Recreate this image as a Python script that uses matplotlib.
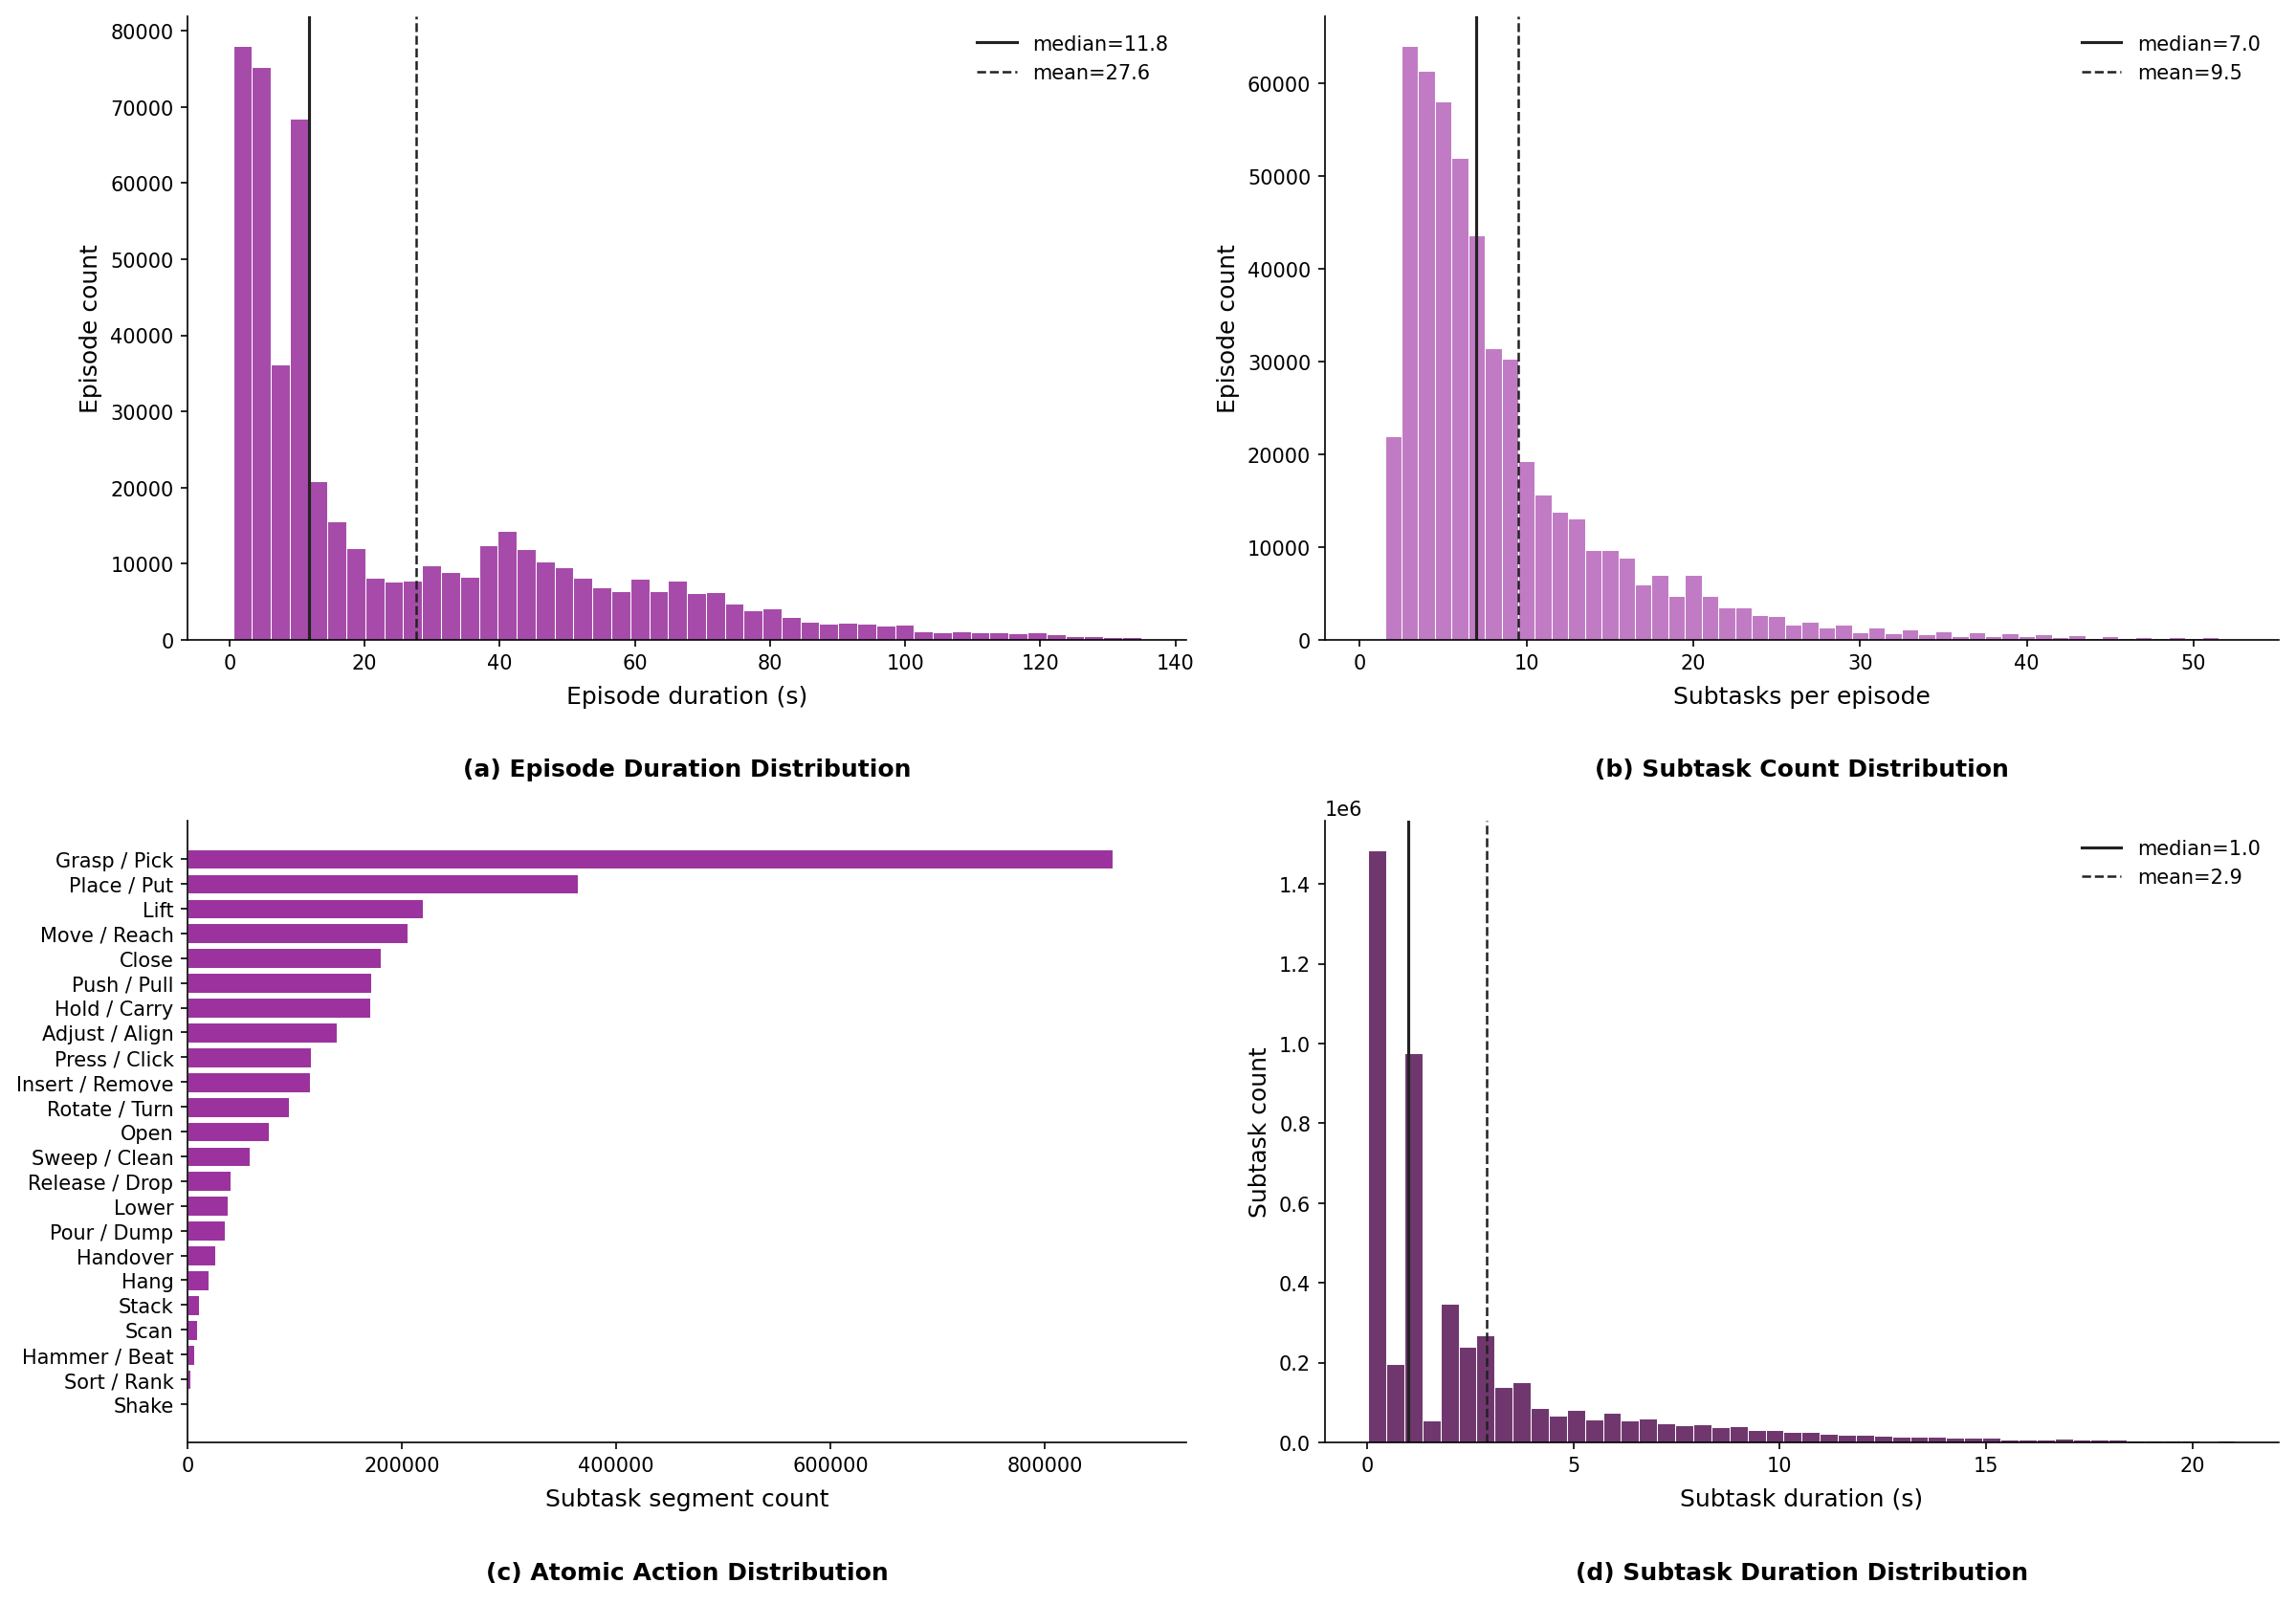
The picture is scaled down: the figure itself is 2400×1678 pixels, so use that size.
import numpy as np
import matplotlib
matplotlib.use("Agg")
import matplotlib.pyplot as plt

# (a) episode duration histogram, 48 bins of 2.8 s starting at 0.5 s
dur_start = 0.5
dur_width = 2.8
dur_counts = [78000, 75300, 36200, 68400, 20800, 15600, 12000, 8200, 7600, 7800,
              9800, 8900, 8300, 12400, 14300, 11900, 10300, 9600, 8100, 6850,
              6400, 8000, 6400, 7750, 6100, 6300, 4800, 3900, 4200, 3000,
              2400, 2100, 2200, 2150, 1900, 1950, 1100, 950, 1150, 1050,
              950, 900, 950, 750, 500, 450, 350, 350]
dur_median, dur_mean = 11.8, 27.6

# (b) subtasks per episode, integer bins 1..52
cnt_values = list(range(1, 53))
cnt_counts = [0, 22000, 64000, 61300, 58000, 51900, 43600, 31400, 30300, 19300,
              15700, 13800, 13100, 9650, 9650, 8850, 5950, 7000, 4750, 7000,
              4700, 3500, 3500, 2700, 2600, 1650, 1950, 1300, 1650, 850,
              1300, 700, 1100, 600, 900, 450, 800, 400, 700, 400,
              600, 300, 500, 250, 400, 200, 320, 200, 280, 200,
              280, 60]
cnt_median, cnt_mean = 7.0, 9.5

# (c) atomic actions
actions = ["Grasp / Pick", "Place / Put", "Lift", "Move / Reach", "Close",
           "Push / Pull", "Hold / Carry", "Adjust / Align", "Press / Click",
           "Insert / Remove", "Rotate / Turn", "Open", "Sweep / Clean",
           "Release / Drop", "Lower", "Pour / Dump", "Handover", "Hang",
           "Stack", "Scan", "Hammer / Beat", "Sort / Rank", "Shake"]
action_counts = [863000, 364000, 219500, 205700, 180000, 171300, 170500,
                 138800, 115100, 114400, 94200, 75500, 58300, 40300, 37400,
                 34500, 25900, 19400, 10800, 8600, 6500, 2900, 300]

# (d) subtask duration histogram, 48 bins of 0.4375 s
sd_start = 0.03
sd_width = 0.4375
sd_counts = [1484000, 196800, 975000, 55600, 346500, 238500, 268400, 138000,
             150800, 85600, 67400, 82400, 57800, 74900, 55600, 58800,
             47100, 43900, 46000, 38500, 40600, 32100, 32100, 25700,
             25700, 20300, 18200, 19500, 15500, 14800, 14000, 14000,
             10800, 10800, 11500, 7500, 7500, 7500, 8300, 6000,
             6000, 6000, 4400, 4400, 4400, 4400, 0, 4400]
sd_median, sd_mean = 1.0, 2.9

fig = plt.figure(figsize=(16, 11.193), dpi=150)
ax_a = fig.add_axes([0.0817, 0.601, 0.435, 0.3883])
ax_b = fig.add_axes([0.577, 0.601, 0.4154, 0.3883])
ax_c = fig.add_axes([0.0817, 0.1013, 0.435, 0.387])
ax_d = fig.add_axes([0.577, 0.1013, 0.4154, 0.387])

LINE = "#222222"
EDGE_LW = 0.5


def hist_panel(ax, lefts, counts, width, color, median, mean, xlabel, ylabel):
    ax.bar(lefts, counts, width=width, align="edge", color=color,
           edgecolor="white", linewidth=EDGE_LW)
    ax.axvline(median, color=LINE, lw=1.5, ls="-", label="median={:.1f}".format(median))
    ax.axvline(mean, color=LINE, lw=1.2, ls="--", label="mean={:.1f}".format(mean))
    ax.set_xlabel(xlabel, fontsize=12, labelpad=6)
    ax.set_ylabel(ylabel, fontsize=12)
    ax.legend(loc="upper right", frameon=False, fontsize=10)


def finish(ax, title, ty):
    for s in ("top", "right"):
        ax.spines[s].set_visible(False)
    ax.tick_params(labelsize=10)
    ax.text(0.5, ty, title, transform=ax.transAxes, ha="center", va="center",
            fontsize=12, fontweight="bold")


dur_lefts = dur_start + dur_width * np.arange(len(dur_counts))
hist_panel(ax_a, dur_lefts, dur_counts, dur_width, "#A64BA9",
           dur_median, dur_mean, "Episode duration (s)", "Episode count")
finish(ax_a, "(a) Episode Duration Distribution", -0.207)

cnt_lefts = np.array(cnt_values) - 0.5
hist_panel(ax_b, cnt_lefts, cnt_counts, 1.0, "#C17BC4",
           cnt_median, cnt_mean, "Subtasks per episode", "Episode count")
finish(ax_b, "(b) Subtask Count Distribution", -0.207)

ypos = np.arange(len(actions))
ax_c.barh(ypos, action_counts, color="#9B329D", edgecolor="white", linewidth=EDGE_LW)
ax_c.set_yticks(ypos)
ax_c.set_yticklabels(actions)
ax_c.invert_yaxis()
ax_c.set_xlim(0, max(action_counts) * 1.08)
ax_c.set_xlabel("Subtask segment count", fontsize=12, labelpad=6)
finish(ax_c, "(c) Atomic Action Distribution", -0.209)

sd_lefts = sd_start + sd_width * np.arange(len(sd_counts))
hist_panel(ax_d, sd_lefts, sd_counts, sd_width, "#70376F",
           sd_median, sd_mean, "Subtask duration (s)", "Subtask count")
finish(ax_d, "(d) Subtask Duration Distribution", -0.209)

fig.savefig("out.png", dpi=150)
